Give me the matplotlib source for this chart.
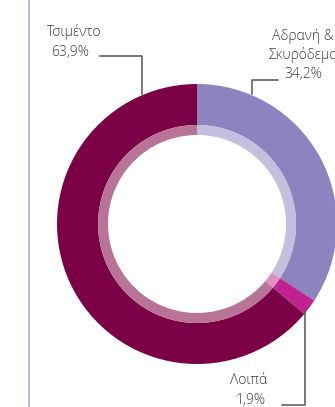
import matplotlib
matplotlib.use("Agg")
import matplotlib.pyplot as plt

# Composition shares (%), clockwise from 12 o'clock
categories = ["Αδρανή &\nΣκυρόδεμα", "Λοιπά", "Τσιμέντο"]
values = [34.2, 1.9, 63.9]
value_labels = ["34,2%", "1,9%", "63,9%"]

outer_colors = ["#8c84bf", "#c2228f", "#7b0046"]
inner_colors = ["#c3bfdf", "#e08fc3", "#b87496"]

W, H = 335, 407
fig = plt.figure(figsize=(W / 100, H / 100), dpi=100)
ax = fig.add_axes([0, 0, 1, 1])

cx, cy = 197, H - 224
R = 140

# main ring
ax.pie(values, colors=outer_colors, startangle=90, counterclock=False,
       center=(cx, cy), radius=R, frame=True,
       wedgeprops=dict(width=41, linewidth=0))
# thin pale inner ring
ax.pie(values, colors=inner_colors, startangle=90, counterclock=False,
       center=(cx, cy), radius=99, frame=True,
       wedgeprops=dict(width=10, linewidth=0))
ax.set_xlim(0, W)
ax.set_ylim(0, H)
ax.set_aspect("equal")
ax.axis("off")

# vertical rule at left
ax.plot([29, 29], [0, H], color="#b8b6e6", lw=1.3, solid_capstyle="butt")

txt = dict(color="#3d3d3d", fontsize=10, family=["Open Sans", "DejaVu Sans"],
           fontweight="light")
lc = dict(color="#555555", lw=1.1)

# Αδρανή & Σκυρόδεμα
ax.text(303, H - 36, "Αδρανή &", ha="center", va="center", **txt)
ax.text(303, H - 55, "Σκυρόδεμα", ha="center", va="center", **txt)
ax.text(303, H - 74, value_labels[0], ha="center", va="center", **txt)
ax.plot([278, 252, 252], [H - 80, H - 80, H - 94], **lc)

# Τσιμέντο
ax.text(74, H - 32, "Τσιμέντο", ha="center", va="center", **txt)
ax.text(70, H - 52, value_labels[2], ha="center", va="center", **txt)
ax.plot([100, 142, 142], [H - 56, H - 56, H - 94], **lc)

# Λοιπά
ax.text(249, H - 381, "Λοιπά", ha="center", va="center", **txt)
ax.text(251, H - 401, value_labels[1], ha="center", va="center", **txt)
ax.plot([282, 305, 305], [H - 405, H - 405, H - 311], **lc)

fig.savefig("out.png", dpi=100)
